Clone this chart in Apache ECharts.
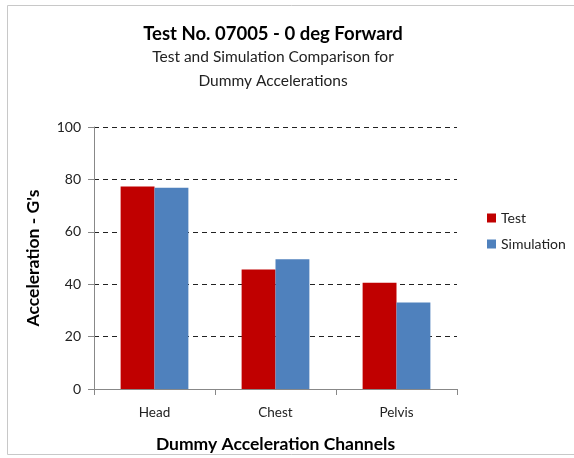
<!DOCTYPE html>
<html><head><meta charset="utf-8">
<script src="https://cdn.jsdelivr.net/npm/echarts@6/dist/echarts.min.js"></script>
<style>html,body{margin:0;padding:0;background:#fff}#c{width:574px;height:458px}</style>
</head><body><div id="c"></div>
<script>
const categories = ["Head", "Chest", "Pelvis"];
const testValues = [77.3, 45.6, 40.6];
const simValues = [76.8, 49.5, 33.0];
const yTicks = [0, 20, 40, 60, 80, 100];

const chart = echarts.init(document.getElementById('c'));
const F = 'Lato, "Noto Sans", sans-serif';
chart.setOption({
  animation: false,
  backgroundColor: '#fff',
  graphic: [{type: 'rect', shape: {x: 7.5, y: 5.5, width: 580, height: 449}, style: {fill: 'none', stroke: '#c8c8c8', lineWidth: 1}}],
  title: [
    {text: 'Test No. 07005 - 0 deg Forward', left: 268, top: 20, textAlign: 'center',
     textStyle: {fontFamily: F, fontSize: 18.5, fontWeight: 'bold', color: '#000'}},
    {text: 'Test and Simulation Comparison for\nDummy Accelerations', left: 268, top: 40, textAlign: 'center',
     textStyle: {fontFamily: F, fontSize: 15.5, fontWeight: 'normal', color: '#222', lineHeight: 24}}
  ],
  legend: {
    orient: 'vertical', left: 482, top: 206, itemWidth: 9, itemHeight: 9, itemGap: 12,
    icon: 'rect', textStyle: {fontFamily: F, fontSize: 14, color: '#222'},
    data: ['Test', 'Simulation']
  },
  grid: {left: 94, top: 127, width: 363, height: 263},
  xAxis: {
    type: 'category', data: categories,
    axisLine: {lineStyle: {color: '#888'}},
    axisTick: {show: true, alignWithLabel: false, length: 6, lineStyle: {color: '#888'}},
    axisLabel: {fontFamily: F, fontSize: 13.5, color: '#222', margin: 17},
    name: 'Dummy Acceleration Channels', nameLocation: 'middle', nameGap: 46,
    nameTextStyle: {fontFamily: F, fontSize: 17.5, fontWeight: 'bold', color: '#000'}
  },
  yAxis: {
    type: 'value', min: yTicks[0], max: yTicks[yTicks.length - 1], interval: 20,
    axisLine: {show: true, lineStyle: {color: '#888'}},
    axisTick: {show: true, length: 6, lineStyle: {color: '#888'}},
    axisLabel: {fontFamily: F, fontSize: 14, color: '#222', margin: 13},
    splitLine: {lineStyle: {color: '#222', type: [5, 4], width: 1.2}},
    name: "Acceleration - G's", nameLocation: 'middle', nameGap: 52,
    nameTextStyle: {fontFamily: F, fontSize: 17.5, fontWeight: 'bold', color: '#000'}
  },
  series: [
    {name: 'Test', type: 'bar', data: testValues, itemStyle: {color: '#C00000'}, barGap: '0%', barCategoryGap: '44%'},
    {name: 'Simulation', type: 'bar', data: simValues, itemStyle: {color: '#4F81BD'}, barGap: '0%', barCategoryGap: '44%'}
  ]
});
</script></body></html>
